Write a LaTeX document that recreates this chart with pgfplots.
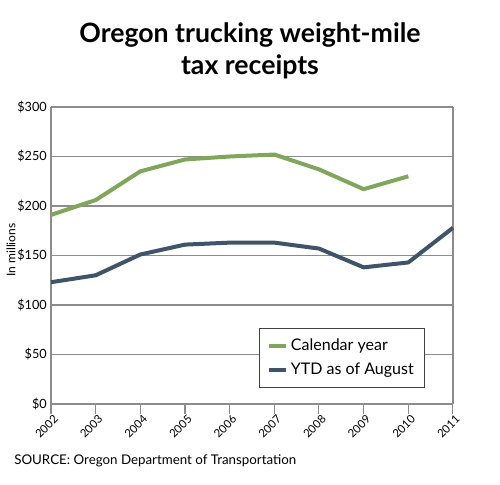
\documentclass[border=0pt]{standalone}
\usepackage{fontspec}
\setmainfont{Lato}
\usepackage{pgfplots}
\pgfplotsset{compat=1.18}
\definecolor{calgreen}{HTML}{7FA65A}
\definecolor{ytdblue}{HTML}{3F5468}
\definecolor{gridgray}{HTML}{8C8C8C}
\begin{document}
\begin{tikzpicture}[x=0.75pt,y=0.75pt]
\begin{axis}[
  scale only axis,
  width=301.5pt, height=222.75pt,
  at={(0,0)}, anchor=south west,
  xmin=2002, xmax=2011, ymin=0, ymax=300,
  xtick={2002,...,2011},
  ytick={0,50,...,300},
  yticklabel={\$\pgfmathprintnumber{\tick}},
  /pgf/number format/assume math mode=true,
  /pgf/number format/1000 sep={},
  x tick label style={rotate=45, anchor=north east, font=\fontsize{8.5}{9}\selectfont, inner sep=1pt, xshift=2pt},
  y tick label style={font=\fontsize{9.5}{11}\selectfont, inner sep=1.5pt, xshift=6pt},
  axis x line*=bottom,
  axis y line*=left,
  x axis line style={gridgray, line width=0.9pt},
  y axis line style={gridgray, line width=0.9pt},
  ymajorgrids,
  grid style={gridgray, line width=0.8pt},
  xtick style={gridgray, line width=0.8pt},
  ytick style={draw=none},
  major tick length=7.5pt,
  tick align=outside,
  xtick pos=bottom,
  clip=false,
  legend style={at={(axis cs:2006.65,16)}, anchor=south west, draw=black!75, line width=0.8pt,
    font=\fontsize{12}{14}\selectfont, inner xsep=6pt, inner ysep=6pt, row sep=4pt},
  legend cell align=left,
  legend image code/.code={\draw[#1, line width=3pt] (0cm,0cm) -- (0.45cm,0cm);},
]
\draw[gridgray, line width=0.9pt] (axis cs:2011,0) -- (axis cs:2011,300);
\addplot[calgreen, line width=3pt, line join=round] coordinates {
  (2002,191) (2003,206) (2004,235) (2005,247) (2006,250) (2007,252)
  (2008,237) (2009,217) (2010,230)};
\addlegendentry{Calendar year}
\addplot[ytdblue, line width=3pt, line join=round] coordinates {
  (2002,123) (2003,130) (2004,151) (2005,161) (2006,163) (2007,163)
  (2008,157) (2009,138) (2010,143) (2011,178)};
\addlegendentry{YTD as of August}
\end{axis}
% axis title, heading and source line
\node[font=\fontsize{9}{11}\selectfont, rotate=90] at (-40,154) {In millions};
\node[font=\bfseries\fontsize{20}{24}\selectfont, align=center] at (199,353) {Oregon trucking weight-mile\\tax receipts};
\node[font=\fontsize{10}{12}\selectfont, anchor=west, inner sep=0pt] at (-37,-57) {SOURCE: Oregon Department of Transportation};
\path[use as bounding box] (-51,-81) rectangle (449,404);
\end{tikzpicture}
\end{document}
